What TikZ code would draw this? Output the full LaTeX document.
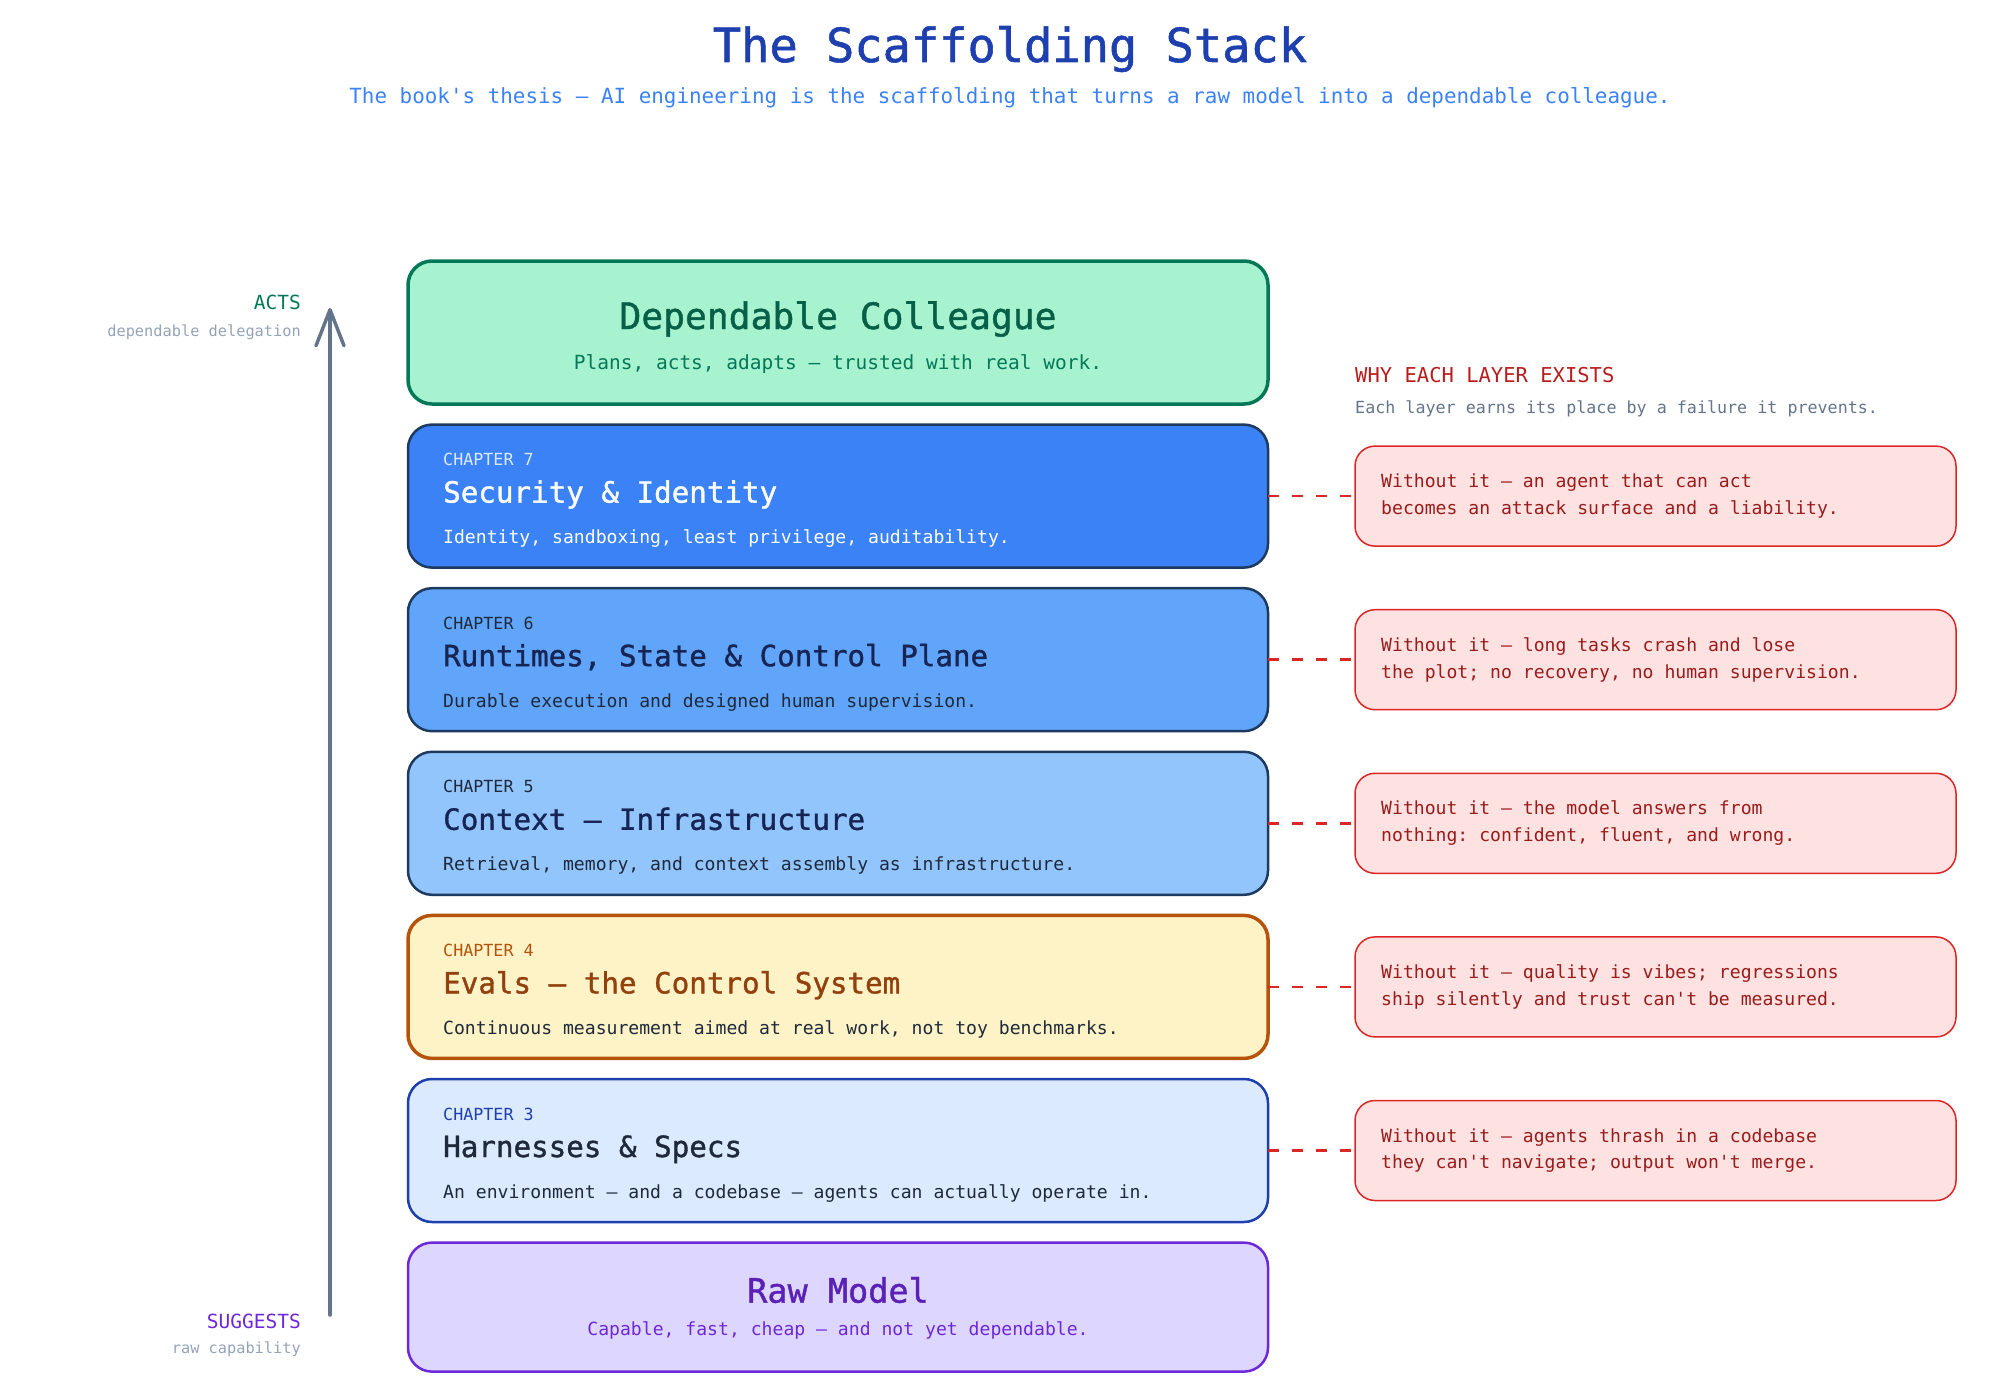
\documentclass[tikz,border=0pt]{standalone}
\usepackage{fontspec}
\setmonofont{DejaVu Sans Mono}
\newfontfamily\headmono{DejaVu Sans Mono}[FakeBold=1.2]
\usepackage{xcolor}
\usepackage{tikz}
\usetikzlibrary{positioning,arrows.meta}

\definecolor{titleblue}{HTML}{1E40AF}
\definecolor{subblue}{HTML}{3B82F6}
\definecolor{depfill}{HTML}{A7F3D0}
\definecolor{depline}{HTML}{047857}
\definecolor{deptext}{HTML}{065F46}
\definecolor{navyline}{HTML}{1E3A5F}
\definecolor{secfill}{HTML}{3B82F6}
\definecolor{runfill}{HTML}{60A5FA}
\definecolor{ctxfill}{HTML}{93C5FD}
\definecolor{evalfill}{HTML}{FEF3C7}
\definecolor{evalline}{HTML}{B45309}
\definecolor{evaltext}{HTML}{92400E}
\definecolor{harnfill}{HTML}{DBEAFE}
\definecolor{rawfill}{HTML}{DDD6FE}
\definecolor{rawline}{HTML}{6D28D9}
\definecolor{rawtext}{HTML}{5B21B6}
\definecolor{inktext}{HTML}{1E293B}
\definecolor{deepnavy}{HTML}{172554}
\definecolor{whyfill}{HTML}{FEE2E2}
\definecolor{whyline}{HTML}{DC2626}
\definecolor{whytext}{HTML}{991B1B}
\definecolor{whyhead}{HTML}{B91C1C}
\definecolor{slate}{HTML}{64748B}
\definecolor{mist}{HTML}{94A3B8}

\newcommand{\fsz}[2]{\fontsize{#1}{#2}\selectfont}

\begin{document}
\begin{tikzpicture}[x=1pt, y=-1pt, node distance=20.6pt,
    every node/.style={font=\ttfamily, inner sep=0pt},
    layer/.style={draw, rounded corners=24pt, line width=2.5pt, outer sep=0pt,
        minimum width=860pt, minimum height=143pt},
    chap/.style={anchor=base west, font=\ttfamily\fsz{16.7}{20}},
    head/.style={anchor=base west, font=\headmono\fsz{29.2}{34}},
    desc/.style={anchor=base west, font=\ttfamily\fsz{18.1}{22}},
    why/.style={draw=whyline, fill=whyfill, line width=1.5pt, rounded corners=20pt,
        outer sep=0pt, minimum width=601pt, minimum height=100pt},
    whytxt/.style={anchor=west, align=left, text=whytext, font=\ttfamily\fsz{18.1}{26.7}},
    link/.style={whyline, line width=2.5pt, dash pattern=on 11pt off 13pt},
    rise/.style={slate, line width=3.5pt, line cap=round,
        -{Straight Barb[length=36pt, width=28pt, round]}}]

  \useasboundingbox (0,0) rectangle (2000,1386);

  % heading
  \node[anchor=base, text=titleblue, font=\headmono\fsz{47}{52}] (title) at (1010,62) {The Scaffolding Stack};
  \node[anchor=base, text=subblue, font=\ttfamily\fsz{20.9}{24}] (subtitle) at (1010,104)
    {The book's thesis — AI engineering is the scaffolding that turns a raw model into a dependable colleague.};

  % the stack
  \node[layer, fill=depfill, draw=depline, line width=3.5pt] (dep) at (838,332.5) {};
  \node[layer, fill=secfill, draw=navyline, below=of dep] (ch7) {};
  \node[layer, fill=runfill, draw=navyline, below=of ch7] (ch6) {};
  \node[layer, fill=ctxfill, draw=navyline, below=of ch6] (ch5) {};
  \node[layer, fill=evalfill, draw=evalline, line width=3.5pt, below=of ch5] (ch4) {};
  \node[layer, fill=harnfill, draw=titleblue, below=of ch4] (ch3) {};
  \node[layer, fill=rawfill, draw=rawline, minimum height=129pt, below=of ch3] (raw) {};

  \node[anchor=base, text=deptext, font=\headmono\fsz{36.3}{40}] (deptitle) at ([yshift=-68pt]dep.north) {Dependable Colleague};
  \node[anchor=base, text=depline, font=\ttfamily\fsz{19.5}{23}] (depsub) at ([yshift=-108pt]dep.north) {Plans, acts, adapts — trusted with real work.};

  \node[chap, text=harnfill] (ch7c) at ([shift={(35pt,-41pt)}]ch7.north west) {CHAPTER 7};
  \node[head, text=white] (ch7h) at ([shift={(35pt,-78pt)}]ch7.north west) {Security \& Identity};
  \node[desc, text=white] (ch7d) at ([shift={(35pt,-119pt)}]ch7.north west) {Identity, sandboxing, least privilege, auditability.};

  \node[chap, text=inktext] (ch6c) at ([shift={(35pt,-41pt)}]ch6.north west) {CHAPTER 6};
  \node[head, text=deepnavy] (ch6h) at ([shift={(35pt,-78pt)}]ch6.north west) {Runtimes, State \& Control Plane};
  \node[desc, text=inktext] (ch6d) at ([shift={(35pt,-119pt)}]ch6.north west) {Durable execution and designed human supervision.};

  \node[chap, text=inktext] (ch5c) at ([shift={(35pt,-41pt)}]ch5.north west) {CHAPTER 5};
  \node[head, text=deepnavy] (ch5h) at ([shift={(35pt,-78pt)}]ch5.north west) {Context — Infrastructure};
  \node[desc, text=inktext] (ch5d) at ([shift={(35pt,-119pt)}]ch5.north west) {Retrieval, memory, and context assembly as infrastructure.};

  \node[chap, text=evalline] (ch4c) at ([shift={(35pt,-41pt)}]ch4.north west) {CHAPTER 4};
  \node[head, text=evaltext] (ch4h) at ([shift={(35pt,-78pt)}]ch4.north west) {Evals — the Control System};
  \node[desc, text=inktext] (ch4d) at ([shift={(35pt,-119pt)}]ch4.north west) {Continuous measurement aimed at real work, not toy benchmarks.};

  \node[chap, text=titleblue] (ch3c) at ([shift={(35pt,-41pt)}]ch3.north west) {CHAPTER 3};
  \node[head, text=inktext] (ch3h) at ([shift={(35pt,-78pt)}]ch3.north west) {Harnesses \& Specs};
  \node[desc, text=inktext] (ch3d) at ([shift={(35pt,-119pt)}]ch3.north west) {An environment — and a codebase — agents can actually operate in.};

  \node[anchor=base, text=rawtext, font=\headmono\fsz{33.5}{38}] (rawtitle) at ([yshift=-60pt]raw.north) {Raw Model};
  \node[anchor=base, text=rawline, font=\ttfamily\fsz{18.1}{22}] (rawsub) at ([yshift=-93pt]raw.north) {Capable, fast, cheap — and not yet dependable.};

  % why each layer exists
  \node[anchor=base west, text=whyhead, font=\ttfamily\fsz{20.5}{24}] (whyhd) at (1355,382) {WHY EACH LAYER EXISTS};
  \node[anchor=base west, text=slate, font=\ttfamily\fsz{16.7}{20}] (whysub) at (1355,413) {Each layer earns its place by a failure it prevents.};

  \node[why, right=87pt of ch7] (w7) {};
  \node[why, right=87pt of ch6] (w6) {};
  \node[why, right=87pt of ch5] (w5) {};
  \node[why, right=87pt of ch4] (w4) {};
  \node[why, right=87pt of ch3] (w3) {};

  \node[whytxt] (w7t) at ([xshift=26pt]w7.west) {Without it — an agent that can act\\becomes an attack surface and a liability.};
  \node[whytxt] (w6t) at ([xshift=26pt]w6.west) {Without it — long tasks crash and lose\\the plot; no recovery, no human supervision.};
  \node[whytxt] (w5t) at ([xshift=26pt]w5.west) {Without it — the model answers from\\nothing: confident, fluent, and wrong.};
  \node[whytxt] (w4t) at ([xshift=26pt]w4.west) {Without it — quality is vibes; regressions\\ship silently and trust can't be measured.};
  \node[whytxt] (w3t) at ([xshift=26pt]w3.west) {Without it — agents thrash in a codebase\\they can't navigate; output won't merge.};

  \draw[link] (ch7.east) -- (w7.west);
  \draw[link] (ch6.east) -- (w6.west);
  \draw[link] (ch5.east) -- (w5.west);
  \draw[link] (ch4.east) -- (w4.west);
  \draw[link] (ch3.east) -- (w3.west);

  % capability axis
  \coordinate (low) at (330,1315);
  \coordinate (high) at (330,308);
  \draw[rise] (low) -- (high);

  \node[anchor=base east, text=depline, font=\ttfamily\fsz{19.5}{23}] (acts) at (301,309) {ACTS};
  \node[anchor=base east, text=mist, font=\ttfamily\fsz{15.3}{18}] (actsub) at (301,336) {dependable delegation};
  \node[anchor=base east, text=rawline, font=\ttfamily\fsz{19.5}{23}] (sugg) at (301,1328) {SUGGESTS};
  \node[anchor=base east, text=mist, font=\ttfamily\fsz{15.3}{18}] (suggsub) at (301,1353) {raw capability};
\end{tikzpicture}
\end{document}
